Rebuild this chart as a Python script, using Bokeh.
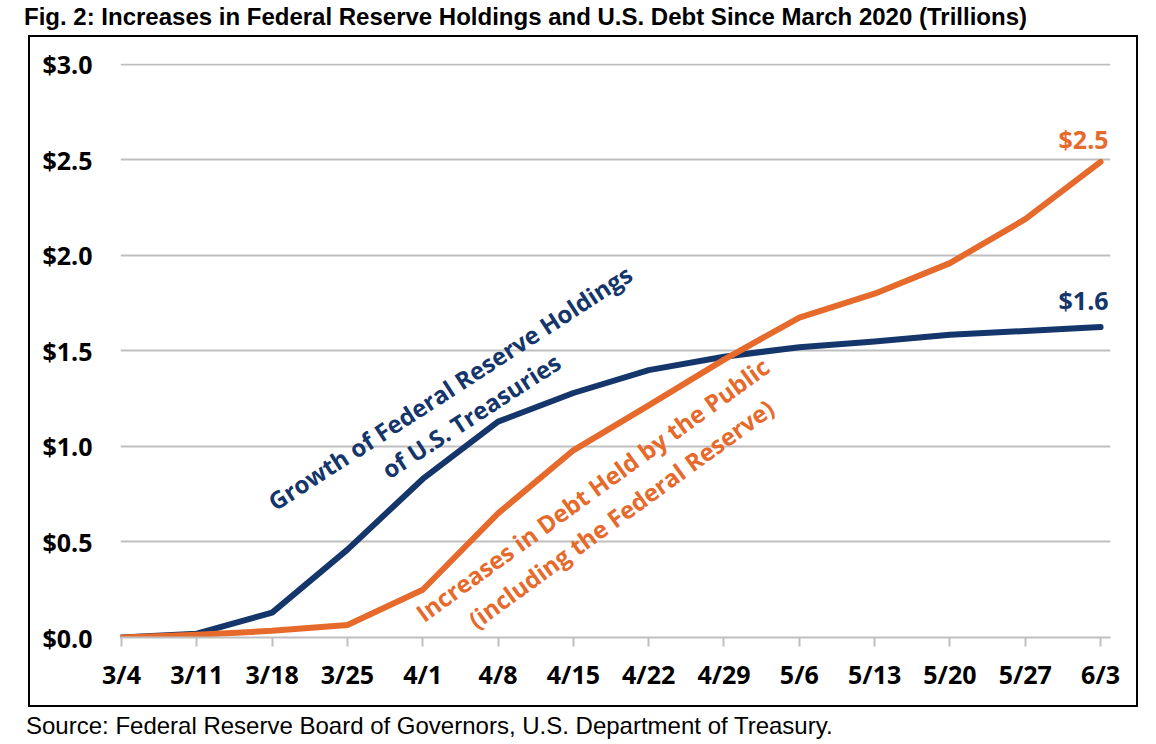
from bokeh.plotting import figure
from bokeh.models import (Range1d, FixedTicker, NumeralTickFormatter, Label,
                          ColumnDataSource, Div, Spacer)
from bokeh.layouts import column, row
from bokeh.core.properties import value
from bokeh.embed import file_html
from bokeh.resources import INLINE

# ---- data ----
dates = ["3/4", "3/11", "3/18", "3/25", "4/1", "4/8", "4/15", "4/22",
         "4/29", "5/6", "5/13", "5/20", "5/27", "6/3"]
fed_holdings = [0.0, 0.02, 0.13, 0.46, 0.83, 1.13, 1.28, 1.40, 1.47, 1.52,
                1.55, 1.585, 1.605, 1.625]
debt_public = [0.0, 0.015, 0.035, 0.065, 0.25, 0.65, 0.98, 1.215, 1.455,
               1.675, 1.80, 1.96, 2.19, 2.49]
y_ticks = [0.0, 0.5, 1.0, 1.5, 2.0, 2.5, 3.0]

title_text = "Fig. 2: Increases in Federal Reserve Holdings and U.S. Debt Since March 2020 (Trillions)"
source_text = "Source: Federal Reserve Board of Governors, U.S. Department of Treasury."

NAVY = "#15366B"
ORANGE = "#E56A2B"
GRID = "#BFBFBF"

x_idx = list(range(len(dates)))
src = ColumnDataSource(dict(x=x_idx, fed=fed_holdings, debt=debt_public))

W, H = 1106, 668
p = figure(width=W, height=H, output_backend="svg", toolbar_location=None,
           x_range=Range1d(-0.0133, 13.132), y_range=Range1d(0, 3.005),
           min_border_left=90, min_border_right=26,
           min_border_top=26, min_border_bottom=68)
p.outline_line_color = None
p.background_fill_color = "white"
p.border_fill_color = "white"

# axes
p.xaxis.ticker = FixedTicker(ticks=x_idx)
p.xaxis.major_label_overrides = {i: d for i, d in zip(x_idx, dates)}
p.xaxis.axis_line_color = GRID
p.xaxis.axis_line_width = 2
p.xaxis.major_tick_line_color = GRID
p.xaxis.major_tick_line_width = 2
p.xaxis.major_tick_out = 9
p.xaxis.major_tick_in = 0
p.xaxis.minor_tick_line_color = None
p.xaxis.major_label_standoff = 10
p.xaxis.major_label_text_font = "Open Sans"
p.xaxis.major_label_text_font_style = "bold"
p.xaxis.major_label_text_font_size = "25px"
p.xaxis.major_label_text_color = "black"

p.yaxis.ticker = FixedTicker(ticks=y_ticks)
p.yaxis.formatter = NumeralTickFormatter(format="$0.0")
p.yaxis.axis_line_color = None
p.yaxis.major_tick_line_color = None
p.yaxis.minor_tick_line_color = None
p.yaxis.major_label_standoff = 22
p.yaxis.major_label_text_font = "Open Sans"
p.yaxis.major_label_text_font_style = "bold"
p.yaxis.major_label_text_font_size = "25px"
p.yaxis.major_label_text_color = "black"

p.xgrid.grid_line_color = None
p.ygrid.grid_line_color = GRID
p.ygrid.grid_line_width = 2

# lines
p.line("x", "fed", source=src, line_color=NAVY, line_width=6,
       line_join="round", line_cap="round")
p.line("x", "debt", source=src, line_color=ORANGE, line_width=6,
       line_join="round", line_cap="round")

# end value labels
last = len(dates) - 1
p.text(x=[last], y=[debt_public[-1]], text=[f"${debt_public[-1]:.1f}"],
       text_color=ORANGE, text_font=value("Open Sans"), text_font_style="bold",
       text_font_size="25px", text_align="right", text_baseline="bottom",
       x_offset=8, y_offset=-6)
p.text(x=[last], y=[fed_holdings[-1]], text=[f"${fed_holdings[-1]:.1f}"],
       text_color=NAVY, text_font=value("Open Sans"), text_font_style="bold",
       text_font_size="25px", text_align="right", text_baseline="bottom",
       x_offset=8, y_offset=-10)

# rotated series annotations
def ann(x, y, txt, color, angle):
    p.add_layout(Label(x=x, y=y, text=txt, text_color=color, angle=angle,
                       text_font="Open Sans", text_font_style="bold",
                       text_font_size="24px", text_align="center",
                       text_baseline="middle"))

ann(4.36, 1.309, "Growth of Federal Reserve Holdings", NAVY, 0.575)
ann(4.64, 1.162, "of U.S. Treasuries", NAVY, 0.575)
ann(6.25, 0.775, "Increases in Debt Held by the Public", ORANGE, 0.628)
ann(6.63, 0.649, "(including the Federal Reserve)", ORANGE, 0.628)

title_div = Div(
    text=f'<div style="font-family:\'Liberation Sans\',Arial,sans-serif;font-weight:bold;'
         f'font-size:24px;line-height:23px;padding-left:19px;white-space:nowrap;color:#000">'
         f'{title_text}</div>',
    width=1140, height=25)
source_div = Div(
    text=f'<div style="font-family:\'Liberation Sans\',Arial,sans-serif;'
         f'font-size:24px;line-height:28px;padding-left:21px;white-space:nowrap;color:#000">'
         f'{source_text}</div>',
    width=1140, height=29)

boxed = column(p, styles={"border": "2px solid black"})
layout = column(title_div, row(Spacer(width=28), boxed), source_div)

open("out.html", "w").write(file_html(layout, INLINE))
